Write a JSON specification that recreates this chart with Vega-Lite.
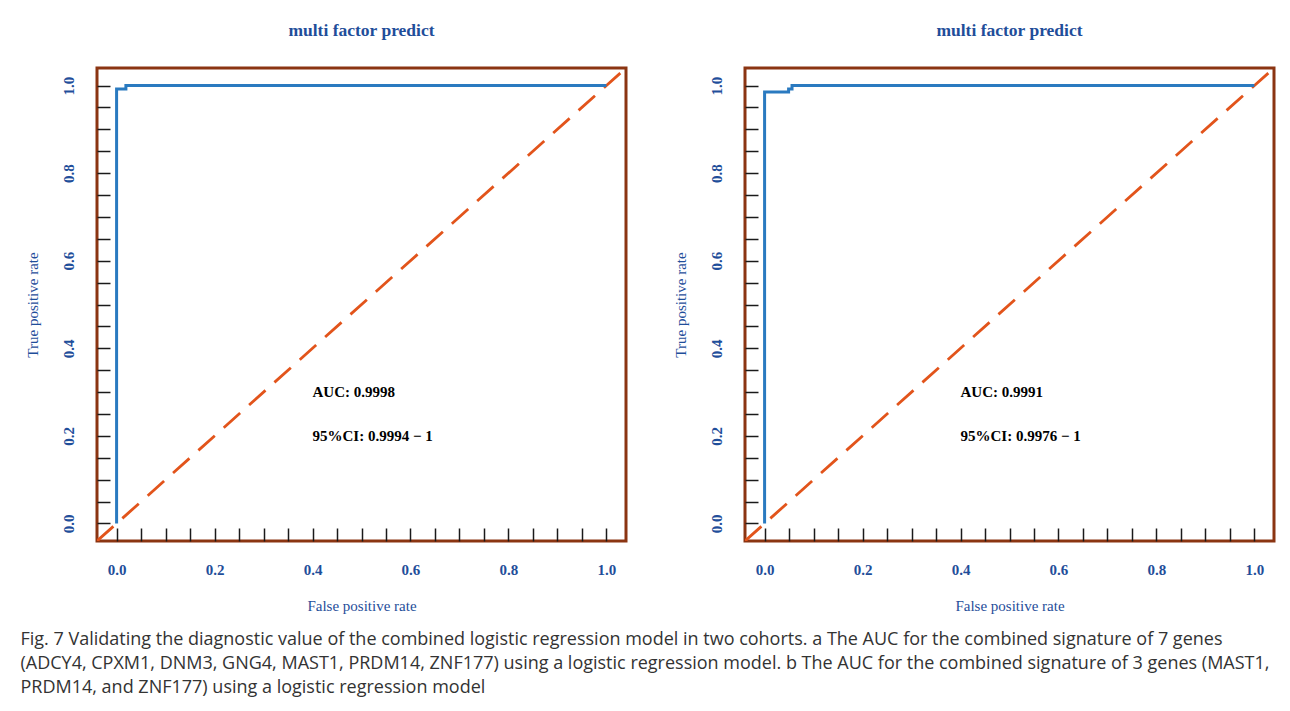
{
  "$schema": "https://vega.github.io/schema/vega-lite/v6.json",
  "padding": {"left": 20, "top": 20, "right": 10, "bottom": 10},
  "background": "white",
  "datasets": {
    "roc_a": [
      {"fpr": 0, "tpr": 0, "o": 0},
      {"fpr": 0, "tpr": 0.992, "o": 1},
      {"fpr": 0.019, "tpr": 0.992, "o": 2},
      {"fpr": 0.019, "tpr": 1, "o": 3},
      {"fpr": 1, "tpr": 1, "o": 4}
    ],
    "roc_b": [
      {"fpr": 0, "tpr": 0, "o": 0},
      {"fpr": 0, "tpr": 0.985, "o": 1},
      {"fpr": 0.049, "tpr": 0.985, "o": 2},
      {"fpr": 0.049, "tpr": 0.992, "o": 3},
      {"fpr": 0.056, "tpr": 0.992, "o": 4},
      {"fpr": 0.056, "tpr": 1, "o": 5},
      {"fpr": 1, "tpr": 1, "o": 6}
    ],
    "diag": [
      {"fpr": -0.04, "tpr": -0.04},
      {"fpr": 1.04, "tpr": 1.04}
    ],
    "text_a": [
      {"fpr": 0.4, "tpr": 0.30, "label": "AUC: 0.9998"},
      {"fpr": 0.4, "tpr": 0.20, "label": "95%CI: 0.9994 − 1"}
    ],
    "text_b": [
      {"fpr": 0.4, "tpr": 0.30, "label": "AUC: 0.9991"},
      {"fpr": 0.4, "tpr": 0.20, "label": "95%CI: 0.9976 − 1"}
    ]
  },
  "hconcat": [
    {
      "width": 529,
      "height": 473,
      "title": {"text": "multi factor predict"},
      "layer": [
        {
          "data": {"name": "diag"},
          "mark": {"type": "line", "color": "#E2541B", "strokeWidth": 2.8, "strokeDash": [22, 12], "clip": true},
          "encoding": {
            "x": {"field": "fpr", "type": "quantitative", "scale": {"domain": [-0.04, 1.04], "nice": false, "zero": false},
              "axis": {"values": [0,0.05,0.1,0.15,0.2,0.25,0.3,0.35,0.4,0.45,0.5,0.55,0.6,0.65,0.7,0.75,0.8,0.85,0.9,0.95,1.0],
                "tickCount": 50,
                "labelExpr": "abs(datum.value*5 - round(datum.value*5)) < 0.001 ? format(datum.value, '.1f') : ''",
                "title": "False positive rate"}},
            "y": {"field": "tpr", "type": "quantitative", "scale": {"domain": [-0.04, 1.04], "nice": false, "zero": false},
              "axis": {"values": [0,0.05,0.1,0.15,0.2,0.25,0.3,0.35,0.4,0.45,0.5,0.55,0.6,0.65,0.7,0.75,0.8,0.85,0.9,0.95,1.0],
                "tickCount": 50,
                "labelExpr": "abs(datum.value*5 - round(datum.value*5)) < 0.001 ? format(datum.value, '.1f') : ''",
                "title": "True positive rate", "labelAngle": 270}}
          }
        },
        {
          "data": {"name": "roc_a"},
          "mark": {"type": "line", "color": "#2A7AC0", "strokeWidth": 3, "clip": true},
          "encoding": {
            "x": {"field": "fpr", "type": "quantitative"},
            "y": {"field": "tpr", "type": "quantitative"},
            "order": {"field": "o", "type": "quantitative"}
          }
        },
        {
          "data": {"name": "text_a"},
          "mark": {"type": "text", "align": "left", "baseline": "middle", "font": "Liberation Serif", "fontSize": 15, "fontWeight": "bold", "color": "#000000"},
          "encoding": {
            "x": {"field": "fpr", "type": "quantitative"},
            "y": {"field": "tpr", "type": "quantitative"},
            "text": {"field": "label"}
          }
        }
      ]
    },
    {
      "width": 529,
      "height": 473,
      "title": {"text": "multi factor predict"},
      "layer": [
        {
          "data": {"name": "diag"},
          "mark": {"type": "line", "color": "#E2541B", "strokeWidth": 2.8, "strokeDash": [22, 12], "clip": true},
          "encoding": {
            "x": {"field": "fpr", "type": "quantitative", "scale": {"domain": [-0.04, 1.04], "nice": false, "zero": false},
              "axis": {"values": [0,0.05,0.1,0.15,0.2,0.25,0.3,0.35,0.4,0.45,0.5,0.55,0.6,0.65,0.7,0.75,0.8,0.85,0.9,0.95,1.0],
                "tickCount": 50,
                "labelExpr": "abs(datum.value*5 - round(datum.value*5)) < 0.001 ? format(datum.value, '.1f') : ''",
                "title": "False positive rate"}},
            "y": {"field": "tpr", "type": "quantitative", "scale": {"domain": [-0.04, 1.04], "nice": false, "zero": false},
              "axis": {"values": [0,0.05,0.1,0.15,0.2,0.25,0.3,0.35,0.4,0.45,0.5,0.55,0.6,0.65,0.7,0.75,0.8,0.85,0.9,0.95,1.0],
                "tickCount": 50,
                "labelExpr": "abs(datum.value*5 - round(datum.value*5)) < 0.001 ? format(datum.value, '.1f') : ''",
                "title": "True positive rate", "labelAngle": 270}}
          }
        },
        {
          "data": {"name": "roc_b"},
          "mark": {"type": "line", "color": "#2A7AC0", "strokeWidth": 3, "clip": true},
          "encoding": {
            "x": {"field": "fpr", "type": "quantitative"},
            "y": {"field": "tpr", "type": "quantitative"},
            "order": {"field": "o", "type": "quantitative"}
          }
        },
        {
          "data": {"name": "text_b"},
          "mark": {"type": "text", "align": "left", "baseline": "middle", "font": "Liberation Serif", "fontSize": 15, "fontWeight": "bold", "color": "#000000"},
          "encoding": {
            "x": {"field": "fpr", "type": "quantitative"},
            "y": {"field": "tpr", "type": "quantitative"},
            "text": {"field": "label"}
          }
        }
      ]
    }
  ],
  "spacing": 43,
  "title": {
    "text": [
      "Fig. 7 Validating the diagnostic value of the combined logistic regression model in two cohorts. a The AUC for the combined signature of 7 genes",
      "(ADCY4, CPXM1, DNM3, GNG4, MAST1, PRDM14, ZNF177) using a logistic regression model. b The AUC for the combined signature of 3 genes (MAST1,",
      "PRDM14, and ZNF177) using a logistic regression model"
    ],
    "orient": "bottom",
    "anchor": "start",
    "font": "Open Sans",
    "fontSize": 18,
    "fontWeight": "normal",
    "color": "#333333",
    "lineHeight": 24,
    "offset": 16,
    "dx": -3
  },
  "config": {
    "view": {"stroke": "#8B3512", "strokeWidth": 3},
    "title": {"font": "Liberation Serif", "fontSize": 17.5, "fontWeight": "bold", "color": "#1F4E9A", "offset": 29, "anchor": "middle"},
    "axis": {
      "domain": false,
      "grid": false,
      "tickSize": -13,
      "tickColor": "#1a1a1a",
      "tickWidth": 1.5,
      "labelFont": "Liberation Serif",
      "labelFontSize": 15,
      "labelFontWeight": "bold",
      "labelColor": "#1F4E9A",
      "labelOverlap": false,
      "labelFlush": false,
      "labelPadding": 34,
      "titleFont": "Liberation Serif",
      "titleFontSize": 15,
      "titleFontWeight": "normal",
      "titleColor": "#1F4E9A",
      "titlePadding": 21
    }
  }
}
